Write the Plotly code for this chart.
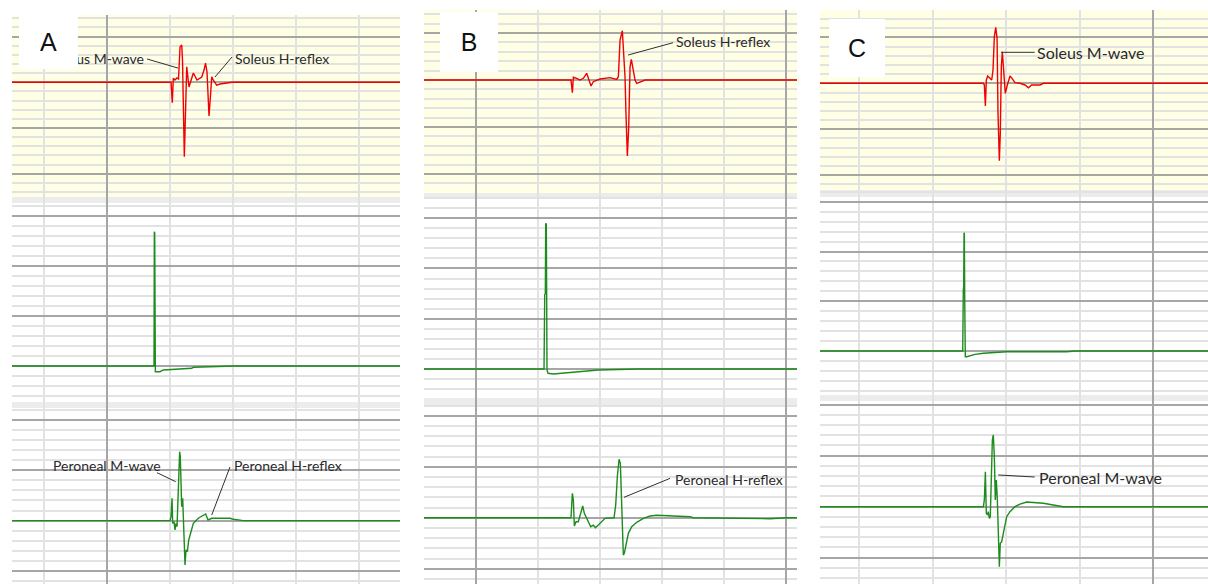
import plotly.graph_objects as go

W, H = 1208, 584

# ---------------- data: time (ms) and amplitude (grid divisions) ----------------
# Column A
solA_t = [-20, 10.16, 10.36, 10.52, 10.79, 11.1, 11.35, 11.59, 11.86, 11.98,
          12.27, 12.38, 12.65, 13.01, 13.33, 13.7, 14.28, 15.03, 15.4, 15.63,
          15.87, 16.19, 16.43, 16.62, 16.87, 17.41, 17.93, 19.52, 19.84, 60]
solA_v = [0, 0, -2.23, 0.44, 0.25, 0.47, 0.36, 3.86, 4.08, 2.44,
          -8.13, -4.12, 1.70, -0.51, 0.25, 1.02, 0.25, 0.58, 1.34, 2.11,
          1.13, -3.68, -1.39, 0.61, 0.25, -0.30, -0.19, -0.08, 0, 0]
stimA_t = [-20, 7.46, 7.51, 7.57, 7.67, 8.41, 8.94, 10.52, 13.44, 13.7, 20.04, 20.16, 60]
stimA_v = [0, 0, 13.43, 13.3, -0.57, -0.57, -0.4, -0.33, -0.23, -0.13, -0.07, 0, 0]
perA_t = [-20, 10.0, 10.16, 10.32, 10.42, 10.63, 10.79, 10.95, 11.11, 11.27,
          11.43, 11.53, 11.63, 11.74, 11.85, 12.01, 12.17, 12.38, 12.54, 12.75,
          12.97, 13.28, 13.7, 14.49, 15.03, 15.66, 16.03, 16.62, 19.52, 20.04,
          21.63, 60]
perA_v = [0, 0, 0.4, 2.22, -0.26, -0.1, -0.92, -0.26, -0.59, 1.72,
          5.35, 6.83, 6.34, 1.55, 1.39, 2.22, -0.92, -4.39, -2.9, -3.07,
          -1.91, -1.25, -0.26, 0.24, 0.4, 0.66, 0.07, 0.24, 0.24, 0.14,
          0, 0]

# Column B
solB_t = [-20, 15.32, 15.54, 15.70, 16.24, 16.77, 17.31, 17.85, 18.22, 18.55,
          18.92, 19.47, 20.0, 21.61, 22.69, 22.96, 23.23, 23.6, 23.76, 24.03,
          24.2, 24.41, 24.63, 24.84, 25.05, 25.37, 25.65, 25.92, 26.45, 27.26, 60]
solB_v = [0, 0, -1.35, 0.29, 0.18, 0, 0.18, 0.71, 0, -0.64,
          -0.18, 0, 0.11, 0.25, 0.07, 0.35, 4.26, 5.24, 3.19, 0.35,
          -3.9, -8.09, -4.97, 1.41, 2.2, 0.88, 0, -0.35, -0.18, 0, 0]
stimB_t = [-20, 10.97, 11.08, 11.18, 11.24, 11.34, 11.45, 11.61, 12.47, 14.62, 16.77, 19.73, 26.18, 60]
stimB_v = [0, 0, 7.36, 7.5, 14.5, 14.4, -0.1, -0.43, -0.5, -0.37, -0.27, -0.1, 0, 0]
perB_t = [-20, 15.32, 15.54, 15.70, 15.86, 16.13, 16.5, 16.88, 17.21, 17.47,
          17.85, 18.18, 18.5, 18.92, 19.25, 19.73, 20.28, 20.81, 22.26, 22.53,
          22.79, 23.07, 23.28, 23.44, 23.6, 23.76, 23.92, 24.2, 24.57, 25.11,
          25.92, 26.99, 28.07, 29.15, 31.29, 34.52, 35.05, 41.0, 47.42, 50.1, 60]
perB_v = [0, 0, 2.39, 1.74, -0.81, -0.39, -0.39, 0.43, 1.15, 0.43,
          -0.06, -0.39, -0.88, -0.72, -0.98, -0.72, -0.39, -0.06, 0, 1.25,
          4.02, 5.73, 5.33, 2.72, -0.55, -3.66, -3.49, -2.51, -1.53, -0.88,
          -0.45, -0.06, 0.17, 0.24, 0.2, 0.1, 0, -0.06, -0.1, 0, 0]

# Column C
solC_t = [0, 26.92, 27.05, 27.19, 27.32, 27.51, 27.82, 28.05, 28.23, 28.41,
          28.6, 28.78, 28.91, 29.09, 29.22, 29.36, 29.5, 29.69, 29.9, 30.18,
          30.54, 30.82, 31.22, 31.9, 32.59, 33.04, 33.49, 34.63, 35.07, 60]
solC_v = [0, 0, -0.18, -2.47, 0.36, 0.79, 0.54, 0.36, 1.45, 5.07,
          6.09, 4.89, -3.26, -8.41, -5.43, 1.8, 3.43, 1.09, -1.09, -0.18,
          0.79, 0.54, 0.07, 0, -0.18, -0.48, -0.18, -0.18, 0, 0]
stimC_t = [0, 24.11, 24.19, 24.24, 24.29, 24.33, 24.38, 24.46, 24.65, 25.1,
           25.78, 26.92, 29.86, 30.09, 38.26, 39.39, 60]
stimC_v = [0, 0, 6.13, 6.5, 11.89, 11.8, 5.3, -0.57, -0.57, -0.47,
           -0.34, -0.23, -0.13, -0.07, -0.07, 0, 0]
perC_t = [0, 26.92, 27.05, 27.19, 27.32, 27.46, 27.59, 27.73, 27.86, 28.0,
          28.14, 28.27, 28.41, 28.54, 28.68, 28.82, 28.95, 29.09, 29.22, 29.41,
          29.63, 30.09, 30.54, 31.22, 31.9, 32.82, 35.07, 37.35, 37.8, 40.52,
          46.87, 47.1, 60]
perC_v = [0, 0, 0.66, 3.43, -0.65, -0.81, -0.49, -1.14, -0.98, 3.43,
          6.54, 7.03, 4.9, 0.66, 2.62, 0.66, -2.94, -5.88, -3.59, -3.43,
          -2.61, -0.98, -0.49, 0, 0.26, 0.46, 0.33, 0.1, 0, 0,
          -0.06, 0, 0]

panel_letters = ["A", "B", "C"]

# ---------------- layout geometry (pixels) ----------------
RED = "#f00000"
GREEN = "#1c8c1c"
YELLOW = "#ffffe6"
BAND = "#ececec"
MAJ = "#a6a6a6"
MIN = "#e2e2e2"
TXT = "#2a2a2a"

columns = [
    dict(x0=12, x1=400, xr=[-15.08, 46.5],
         rows=[(15, 197, [-12.54, 7.36]), (197, 402, [-3.6, 16.9]), (402, 584, [-6.27, 11.75])],
         bands=[(197, 203), (402, 408)],
         series=[(solA_t, solA_v, RED), (stimA_t, stimA_v, GREEN), (perA_t, perA_v, GREEN)],
         box=(19, 15, 78, 69)),
    dict(x0=424, x1=797, xr=[-8.39, 51.77],
         rows=[(10, 193, [-12.02, 7.45]), (193, 398, [-2.89, 17.51]), (398, 584, [-6.5, 11.74])],
         bands=[(193, 199), (398, 406)],
         series=[(solB_t, solB_v, RED), (stimB_t, stimB_v, GREEN), (perB_t, perB_v, GREEN)],
         box=(440, 12, 498, 72)),
    dict(x0=820, x1=1208, xr=[4.69, 57.48],
         rows=[(10, 190, [-11.6, 7.97]), (190, 395, [-4.42, 16.18]), (395, 584, [-7.58, 10.95])],
         bands=[(190, 197), (395, 401)],
         series=[(solC_t, solC_v, RED), (stimC_t, stimC_v, GREEN), (perC_t, perC_v, GREEN)],
         box=(829, 19, 885, 77)),
]

# labels: (col, row, text, x, y, xanchor, size, leader (x0,y0,x1,y1) in data units)
labels = [
    (0, 0, "Soleus M-wave", 6.19, 2.55, "right", 14, (6.35, 2.55, 11.27, 1.56)),
    (0, 0, "Soleus H-reflex", 19.99, 2.55, "left", 14, (19.84, 2.77, 17.14, 0.58)),
    (0, 2, "Peroneal M-wave", 8.89, 5.42, "right", 14, (7.94, 4.75, 10.9, 3.86)),
    (0, 2, "Peroneal H-reflex", 19.84, 5.42, "left", 14, (19.52, 5.32, 16.62, 0.56)),
    (1, 0, "Soleus H-reflex", 31.94, 4.15, "left", 14, (31.78, 3.97, 24.52, 2.66)),
    (1, 2, "Peroneal H-reflex", 31.78, 3.76, "left", 14, (31.29, 3.86, 23.87, 2.0)),
    (2, 0, "Soleus M-wave", 33.95, 3.37, "left", 16, (29.32, 3.37, 33.9, 3.37)),
    (2, 2, "Peroneal M-wave", 34.18, 2.88, "left", 16, (28.95, 3.11, 33.9, 2.91)),
]

fig = go.Figure()
shapes = []
annotations = []
layout_axes = {}

n = 0
axis_ids = {}
for ci, col in enumerate(columns):
    for ri, (y0, y1, yr) in enumerate(col["rows"]):
        n += 1
        sx = "" if n == 1 else str(n)
        axis_ids[(ci, ri)] = ("x" + sx, "y" + sx)
        layout_axes["xaxis" + sx] = dict(
            domain=[col["x0"] / W, col["x1"] / W], range=col["xr"], anchor="y" + sx,
            showticklabels=False, ticks="", zeroline=False, showline=False,
            tick0=0, dtick=50, showgrid=True, gridcolor=MAJ, gridwidth=1.5,
            minor=dict(tick0=0, dtick=10, showgrid=True, gridcolor=MIN, gridwidth=1.5),
            fixedrange=True)
        layout_axes["yaxis" + sx] = dict(
            domain=[1 - y1 / H, 1 - y0 / H], range=yr, anchor="x" + sx,
            showticklabels=False, ticks="", zeroline=False, showline=False,
            tick0=0, dtick=5, showgrid=True, gridcolor=MAJ, gridwidth=2,
            minor=dict(tick0=0, dtick=1, showgrid=True, gridcolor=MIN, gridwidth=1.5),
            fixedrange=True)
        # panel background
        shapes.append(dict(type="rect", xref="paper", yref="paper", layer="below",
                           x0=col["x0"] / W, x1=col["x1"] / W,
                           y0=1 - y1 / H, y1=1 - y0 / H,
                           fillcolor=YELLOW if ri == 0 else "white", line=dict(width=0)))
        t, v, c = col["series"][ri]
        fig.add_trace(go.Scatter(x=t, y=v, mode="lines", line=dict(color=c, width=1.4),
                                 xaxis="x" + sx, yaxis="y" + sx, hoverinfo="skip",
                                 showlegend=False))
    for (b0, b1) in col["bands"]:
        shapes.append(dict(type="rect", xref="paper", yref="paper", layer="below",
                           x0=col["x0"] / W, x1=col["x1"] / W,
                           y0=1 - b1 / H, y1=1 - b0 / H,
                           fillcolor=BAND, line=dict(width=0)))

for (ci, ri, text, x, y, xa, size, ld) in labels:
    xid, yid = axis_ids[(ci, ri)]
    annotations.append(dict(text=text, x=x, y=y, xref=xid, yref=yid, xanchor=xa,
                            yanchor="middle", showarrow=False,
                            font=dict(family="Lato", size=size, color=TXT)))
    shapes.append(dict(type="line", xref=xid, yref=yid, x0=ld[0], y0=ld[1], x1=ld[2], y1=ld[3],
                       line=dict(color="#303030", width=1)))

# panel letter boxes (drawn last so they cover underlying text)
for ci, col in enumerate(columns):
    bx0, by0, bx1, by1 = col["box"]
    annotations.append(dict(text=panel_letters[ci], xref="paper", yref="paper",
                            x=(bx0 + bx1) / 2 / W, y=1 - (by0 + by1) / 2 / H,
                            xanchor="center", yanchor="middle", showarrow=False,
                            width=bx1 - bx0, height=by1 - by0, bgcolor="white",
                            borderpad=0, borderwidth=0,
                            font=dict(family="Liberation Sans", size=25, color="#111111")))

fig.update_layout(
    width=W, height=H, margin=dict(l=0, r=0, t=0, b=0),
    paper_bgcolor="white", plot_bgcolor="rgba(0,0,0,0)",
    showlegend=False, shapes=shapes, annotations=annotations,
    **layout_axes)

fig.write_html("out.html", config=dict(displayModeBar=False))
